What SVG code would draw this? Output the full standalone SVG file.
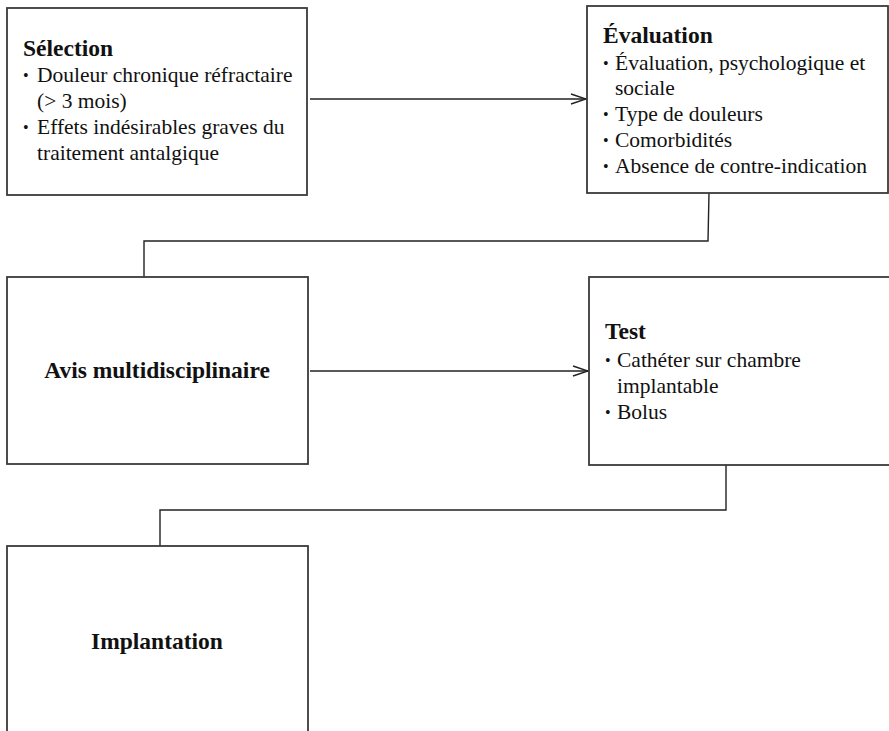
<svg xmlns="http://www.w3.org/2000/svg" width="889" height="731" viewBox="0 0 889 731">
  <style>
    .box { fill: #ffffff; stroke: #3a3a3a; stroke-width: 1.8; }
    .link { fill: none; stroke: #222222; stroke-width: 1.4; }
    .t { font-family: "Liberation Serif", "Times New Roman", serif; font-size: 21.5px; fill: #111111; }
    .b { font-weight: bold; font-size: 23.5px; }
    .dot { font-size: 16px; }
  </style>
  <defs>
    <marker id="open" markerWidth="18" markerHeight="12" refX="16" refY="6" orient="auto" markerUnits="userSpaceOnUse">
      <path d="M1,1 L16,6 L1,11" fill="none" stroke="#222222" stroke-width="1.4"/>
    </marker>
  </defs>
  <rect width="889" height="731" fill="#ffffff"/>

  <!-- connectors -->
  <g id="connectors">
    <line class="link" x1="310" y1="99" x2="586" y2="99" marker-end="url(#open)"/>
    <polyline class="link" points="709,193 708,241 144,241 144,277"/>
    <line class="link" x1="310" y1="371" x2="588" y2="371" marker-end="url(#open)"/>
    <polyline class="link" points="726,465 726,510 160,510 160,546"/>
  </g>

  <g id="selection">
    <rect class="box" x="7" y="8" width="300" height="187"/>
    <text class="t b" x="23" y="56">Sélection</text>
    <text class="t dot" x="23" y="81">•</text>
    <text class="t" x="37" y="82">Douleur chronique réfractaire</text>
    <text class="t" x="37" y="108">(&gt; 3 mois)</text>
    <text class="t dot" x="23" y="133">•</text>
    <text class="t" x="37" y="134">Effets indésirables graves du</text>
    <text class="t" x="37" y="160">traitement antalgique</text>
  </g>

  <g id="evaluation">
    <rect class="box" x="587" y="6" width="301" height="187"/>
    <text class="t b" x="603" y="43">Évaluation</text>
    <text class="t dot" x="603" y="69">•</text>
    <text class="t" x="615" y="70">Évaluation, psychologique et</text>
    <text class="t" x="615" y="95">sociale</text>
    <text class="t dot" x="603" y="120">•</text>
    <text class="t" x="615" y="121">Type de douleurs</text>
    <text class="t dot" x="603" y="146">•</text>
    <text class="t" x="615" y="147">Comorbidités</text>
    <text class="t dot" x="603" y="172">•</text>
    <text class="t" x="615" y="173">Absence de contre-indication</text>
  </g>

  <g id="avis">
    <rect class="box" x="7" y="277" width="301" height="187"/>
    <text class="t b" x="157" y="378" text-anchor="middle">Avis multidisciplinaire</text>
  </g>

  <g id="test">
    <rect class="box" x="589" y="277" width="310" height="188"/>
    <text class="t b" x="605" y="339">Test</text>
    <text class="t dot" x="605" y="366">•</text>
    <text class="t" x="617" y="367">Cathéter sur chambre</text>
    <text class="t" x="617" y="393">implantable</text>
    <text class="t dot" x="605" y="418">•</text>
    <text class="t" x="617" y="419">Bolus</text>
  </g>

  <g id="implantation">
    <rect class="box" x="7" y="546" width="301" height="200"/>
    <text class="t b" x="157" y="649" text-anchor="middle">Implantation</text>
  </g>
</svg>
